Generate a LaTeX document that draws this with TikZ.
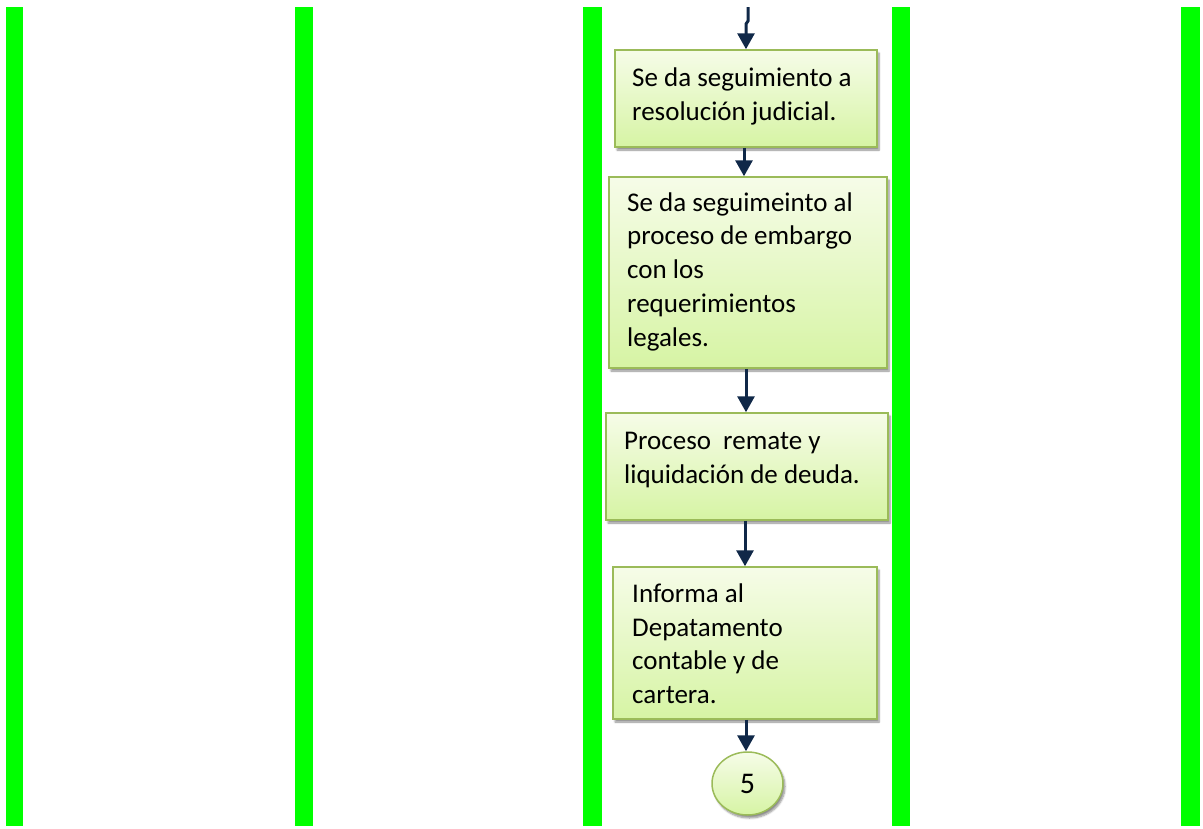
\documentclass[tikz,border=0pt]{standalone}
\usepackage{fontspec}
\setmainfont{Carlito}
\usetikzlibrary{arrows.meta,shapes.geometric,shadows.blur}
\definecolor{lane}{RGB}{0,255,0}
\definecolor{boxedge}{RGB}{155,187,89}
\definecolor{boxtop}{RGB}{246,252,232}
\definecolor{boxbot}{RGB}{214,244,164}
\definecolor{flow}{RGB}{16,40,72}
\tikzset{
  lanebar/.style={fill=lane,draw=none},
  stepbox/.style={rectangle,draw=boxedge,line width=1.5pt,top color=boxtop,bottom color=boxbot,
    blur shadow={shadow xshift=2pt,shadow yshift=-3pt,shadow blur steps=6,shadow opacity=45},inner sep=0pt},
  steptext/.style={anchor=base west,align=left,inner sep=0pt,font=\fontsize{27}{33.7}\selectfont},
  connector/.style={ellipse,draw=boxedge,line width=1.5pt,top color=boxtop,bottom color=boxbot,
    blur shadow={shadow xshift=2pt,shadow yshift=-3pt,shadow blur steps=6,shadow opacity=45},
    inner sep=0pt,minimum width=71pt,minimum height=63pt,font=\fontsize{30}{32}\selectfont},
  flowarrow/.style={draw=flow,line width=3pt,-{Triangle[width=17pt,length=16pt]}}
}
\begin{document}
\begin{tikzpicture}[x=1pt,y=-1pt]
\useasboundingbox (0,0) rectangle (1203,828);
% swimlane separators
\fill[lanebar] (6,7) rectangle (23,826);
\fill[lanebar] (295,7) rectangle (313,826);
\fill[lanebar] (583,7) rectangle (602,826);
\fill[lanebar] (892,7) rectangle (910,826);
\fill[lanebar] (1181,7) rectangle (1200,826);
% process steps
\node[stepbox,minimum width=262pt,minimum height=97pt] (s1) at (746,98.5) {};
\node[stepbox,minimum width=278pt,minimum height=191pt] (s2) at (748,272.5) {};
\node[stepbox,minimum width=282pt,minimum height=107pt] (s3) at (747,466.5) {};
\node[stepbox,minimum width=264pt,minimum height=152pt] (s4) at (745,643) {};
\node[connector] (c5) at (747.5,783.5) {5};
% step texts (anchored at the baseline of their last line)
\node[steptext] (t1) at (632,120) {Se da seguimiento a\\resolución judicial.};
\node[steptext] (t2) at (627,346) {Se da seguimeinto al\\proceso de embargo\\con los\\requerimientos\\legales.};
\node[steptext] (t3) at (624,483) {Proceso\ \ remate y\\liquidación de deuda.};
\node[steptext] (t4) at (632,703.5) {Informa al\\Depatamento\\contable y de\\cartera.};
% incoming flow from the previous page
\coordinate (in) at (748,7);
\coordinate (jog) at (748,21);
\draw[flowarrow] (in) -- (jog) -- ++(-2,3) -- (s1.north -| 746,0);
% flow between steps
\draw[flowarrow] (s1.south -| 744,0) -- (s2.north -| 744,0);
\draw[flowarrow] (s2.south -| 746,0) -- (s3.north -| 746,0);
\draw[flowarrow] (s3.south -| 745,0) -- (s4.north -| 745,0);
\draw[flowarrow] (s4.south -| 746,0) -- (c5.north -| 746,0);
\end{tikzpicture}
\end{document}
